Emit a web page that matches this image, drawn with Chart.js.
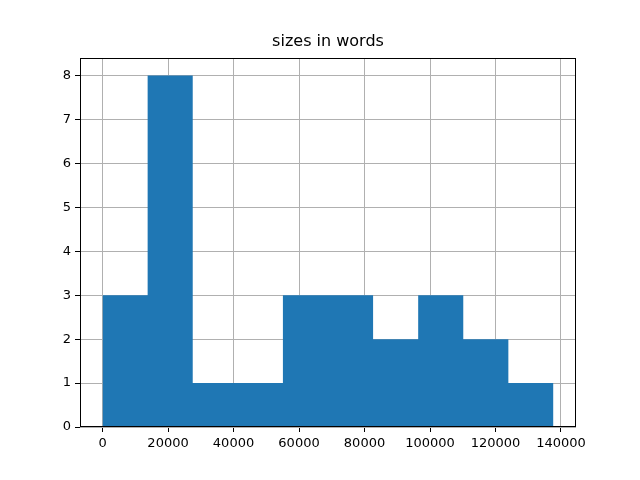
<!DOCTYPE html>
<html>
<head>
<meta charset="utf-8">
<script src="https://cdn.jsdelivr.net/npm/chart.js@4.4.1/dist/chart.umd.min.js"></script>
<style>
html,body{margin:0;padding:0;background:#fff;}
#wrap{width:640px;height:480px;}
</style>
</head>
<body>
<div id="wrap"><canvas id="hist"></canvas></div>
<script>
// histogram bins
const binEdges = [0, 13770, 27540, 41310, 55080, 68850, 82620, 96390, 110160, 123930, 137700];
const binCounts = [3, 8, 1, 1, 3, 3, 2, 3, 2, 1];
const xTicks = [0, 20000, 40000, 60000, 80000, 100000, 120000, 140000];
const yTicks = [0, 1, 2, 3, 4, 5, 6, 7, 8];
const titleText = "sizes in words";

// step outline for the filled histogram
let pts = [{x:binEdges[0], y:0}];
binCounts.forEach((c,i)=>{
    pts.push({x:binEdges[i], y:c});
});
pts.push({x:binEdges[binEdges.length-1], y:binCounts[binCounts.length-1]});
pts.push({x:binEdges[binEdges.length-1], y:0});

const span = binEdges[binEdges.length-1]-binEdges[0];
const xMin = binEdges[0]-span*0.05;
const xMax = binEdges[binEdges.length-1]+span*0.05;
const yMax = Math.max(...binCounts)*1.05;

const framePlugin = {
    id:"frame",
    afterDraw(chart){
        const a = chart.chartArea;
        const ctx = chart.ctx;
        ctx.save();
        ctx.strokeStyle = "#000";
        ctx.lineWidth = 1;
        ctx.strokeRect(Math.round(a.left)+0.5, Math.round(a.top)+0.5,
            Math.round(a.right-a.left)-1, Math.round(a.bottom-a.top)-1);
        ctx.restore();
    }
};

const font = { family:"DejaVu Sans", size:13 };

new Chart(document.getElementById("hist"),{
    type:"line",
    data:{
        datasets:[{
            data:pts,
            stepped:true,
            fill:"origin",
            backgroundColor:"#1f77b4",
            borderWidth:0,
            borderColor:"rgba(0,0,0,0)",
            pointRadius:0
        }]
    },
    options:{
        responsive:true,
        maintainAspectRatio:false,
        animation:false,
        layout:{ padding:{ left:0, right:64, top:0, bottom:0 } },
        plugins:{
            legend:{ display:false },
            tooltip:{ enabled:false },
            title:{
                display:true,
                fullSize:false,
                text:titleText,
                color:"#000",
                font:{ family:"DejaVu Sans", size:16, weight:"normal" },
                padding:{ top:32, bottom:6.8 }
            }
        },
        scales:{
            x:{
                type:"linear",
                min:xMin,
                max:xMax,
                z:1,
                afterBuildTicks(s){ s.ticks = xTicks.map(v=>({value:v})); },
                afterFit(s){ s.height = 53; },
                grid:{ color:"#b0b0b0", lineWidth:1, tickColor:"#000", tickLength:5 },
                border:{ display:false },
                ticks:{ color:"#000", font:font, padding:4, maxRotation:0, autoSkip:false,
                    callback:v=>String(v) }
            },
            y:{
                min:0,
                max:yMax,
                z:1,
                afterBuildTicks(s){ s.ticks = yTicks.map(v=>({value:v})); },
                afterFit(s){ s.width = 80; },
                grid:{ color:"#b0b0b0", lineWidth:1, tickColor:"#000", tickLength:5 },
                border:{ display:false },
                ticks:{ color:"#000", font:font, padding:4, autoSkip:false }
            }
        }
    },
    plugins:[framePlugin]
});
</script>
</body>
</html>
